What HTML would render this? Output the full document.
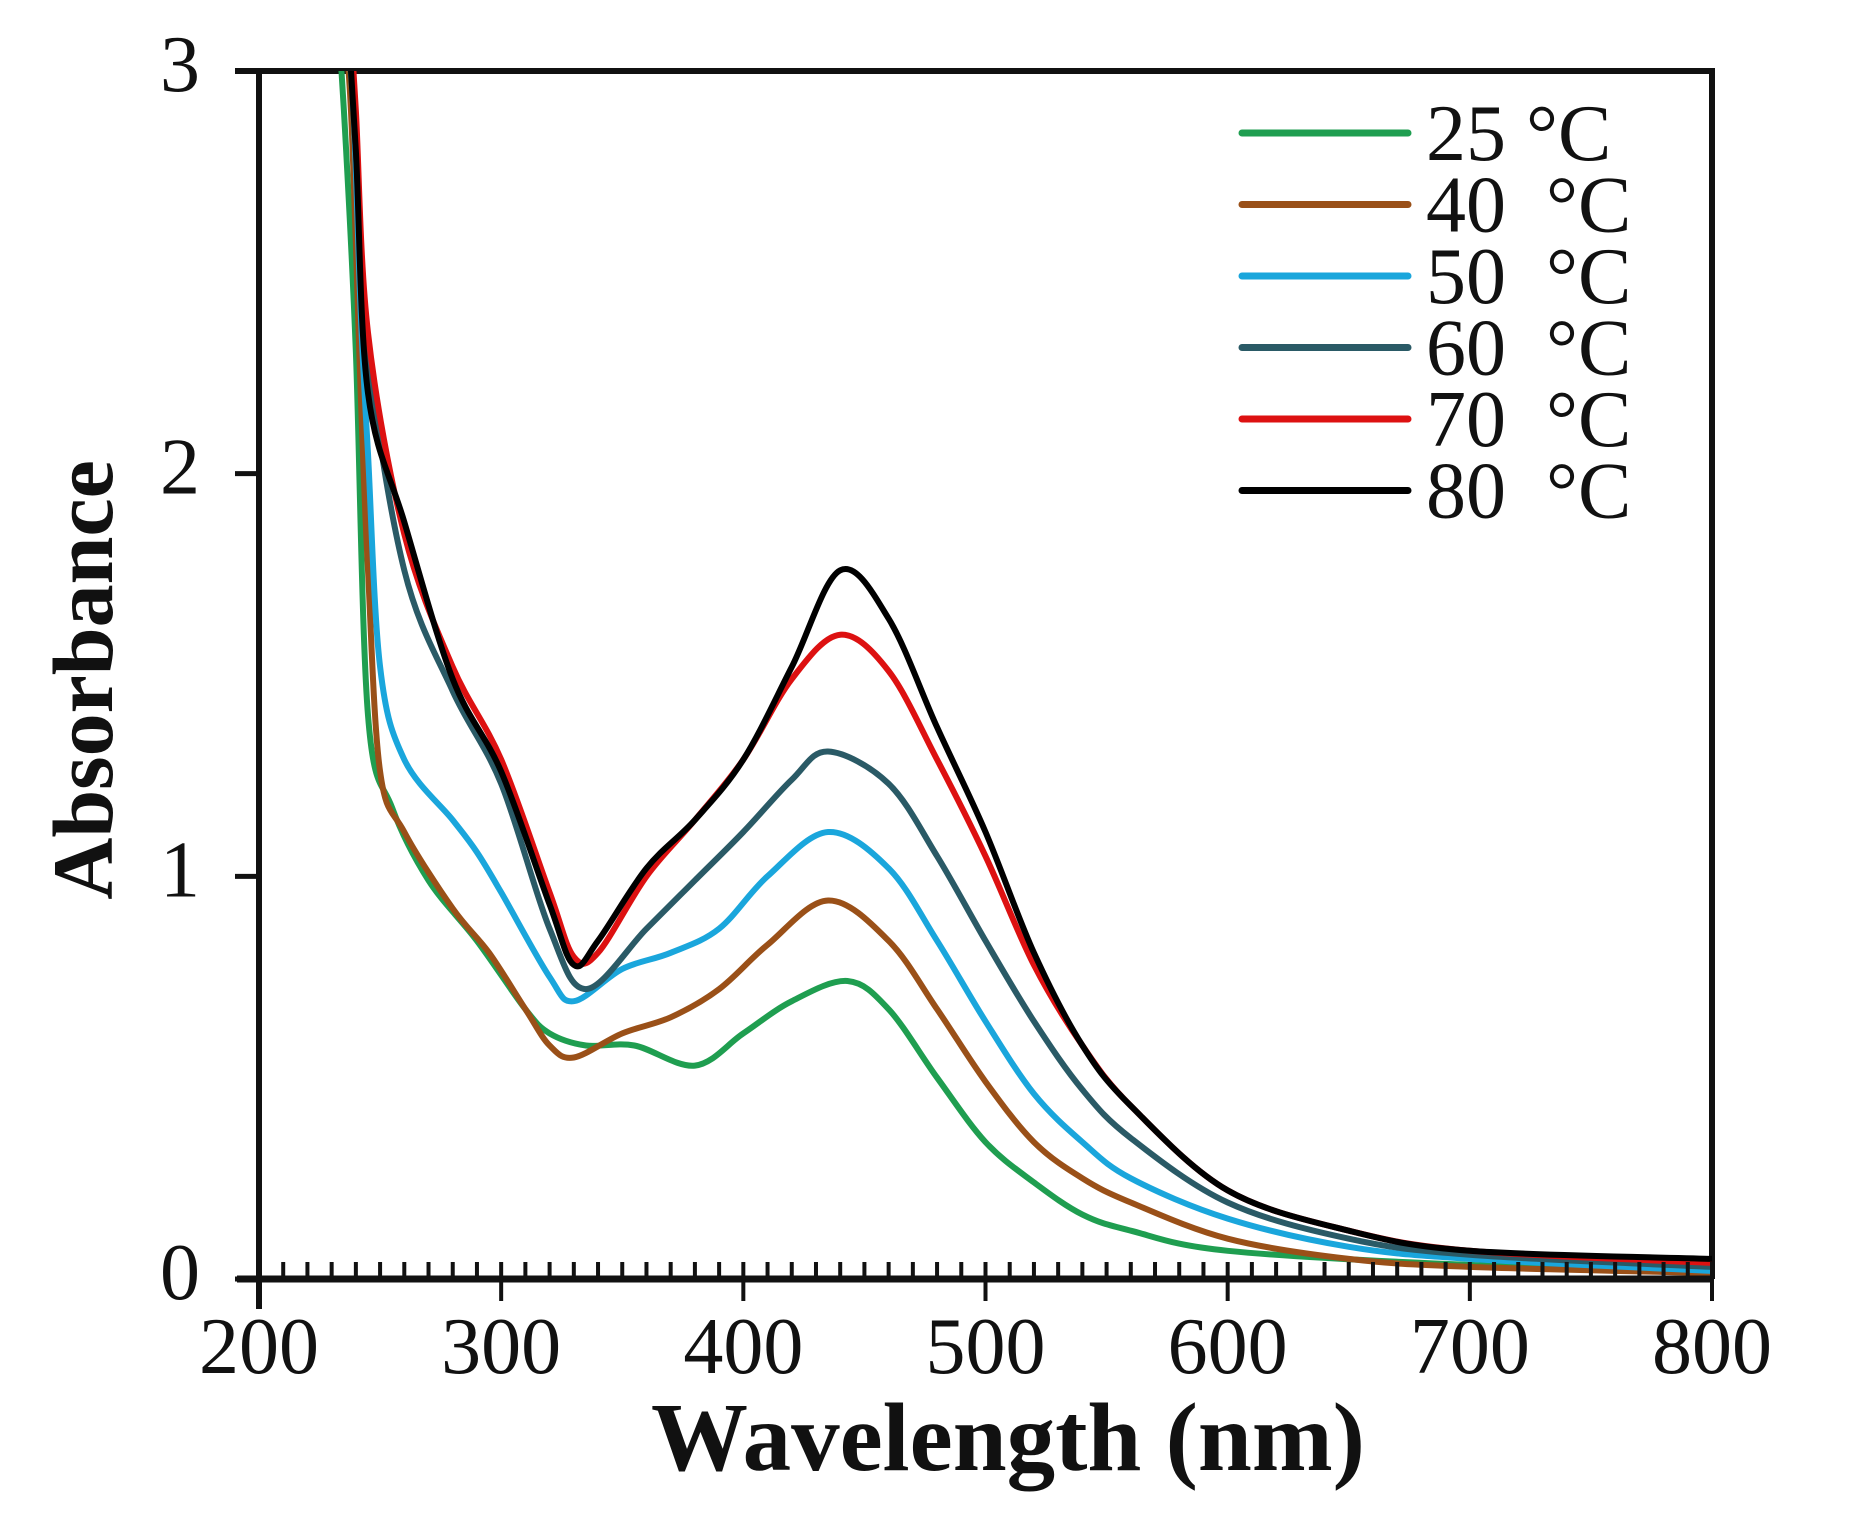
<!DOCTYPE html>
<html><head><meta charset="utf-8"><style>
html,body{margin:0;padding:0;background:#fff}
svg{display:block}
text{font-family:"Liberation Serif",serif;fill:#111}
</style></head><body>
<svg id="chart" width="1853" height="1517" viewBox="0 0 1853 1517" xmlns="http://www.w3.org/2000/svg">
<defs><clipPath id="plotclip"><rect x="259" y="71" width="1453" height="1210"/></clipPath></defs>
<g id="frame"></g>
<g id="series" clip-path="url(#plotclip)"></g>
<g id="axes"></g>
<g id="legend"></g>
<text transform="translate(112,680) rotate(-90)" text-anchor="middle" font-size="86" font-weight="bold">Absorbance</text>
<text x="1008" y="1470" text-anchor="middle" font-size="97" font-weight="bold">Wavelength (nm)</text>
</svg>
<script>
const xTicks=[200,300,400,500,600,700,800];
const yTicks=[0,1,2,3];
const seriesLabels=["25 °C","40  °C","50  °C","60  °C","70  °C","80  °C"];
const seriesColors=["#1f9e50","#9a5018","#1aa6dc","#2a5a66","#dd1111","#000000"];
const wl25=[232,236,240,245,255,270,290,310,320,335,355,380,400,420,443,460,480,500,520,540,560,600,700,800];
const ab25=[3.2,2.8,2.3,1.4,1.17,0.99,0.84,0.67,0.61,0.58,0.58,0.53,0.61,0.69,0.74,0.67,0.5,0.34,0.24,0.16,0.12,0.07,0.035,0.02];
const wl40=[234,238,242,245,250,260,280,295,310,320,330,350,370,390,410,435,460,480,500,520,540,560,600,650,700,800];
const ab40=[3.2,2.9,2.2,1.76,1.26,1.11,0.92,0.81,0.67,0.58,0.55,0.61,0.65,0.72,0.83,0.94,0.84,0.67,0.49,0.34,0.25,0.19,0.1,0.05,0.03,0.015];
const wl50=[235,239,242,245,250,260,280,290,300,320,330,350,370,390,410,435,460,480,500,520,540,560,600,650,700,800];
const ab50=[3.2,2.9,2.4,2.05,1.52,1.29,1.14,1.06,0.96,0.75,0.69,0.77,0.81,0.87,1.0,1.11,1.02,0.84,0.64,0.46,0.34,0.25,0.15,0.08,0.05,0.02];
const wl60=[236,240,245,260,280,300,320,335,360,380,400,420,435,460,480,500,520,540,560,600,650,700,800];
const ab60=[3.2,2.8,2.3,1.76,1.46,1.23,0.87,0.72,0.87,0.99,1.11,1.24,1.31,1.23,1.05,0.84,0.64,0.47,0.35,0.19,0.1,0.06,0.03];
const wl70=[237,240,245,260,280,300,320,330,340,360,380,400,420,440,460,480,500,520,540,560,600,650,700,800];
const ab70=[3.2,2.9,2.35,1.85,1.52,1.29,0.96,0.8,0.81,1.0,1.14,1.29,1.49,1.6,1.51,1.29,1.05,0.78,0.58,0.43,0.22,0.12,0.07,0.04];
const wl80=[236,240,245,260,280,300,320,330,340,360,380,400,420,440,460,480,500,520,540,560,600,650,700,800];
const ab80=[3.2,2.8,2.2,1.88,1.49,1.26,0.93,0.78,0.84,1.02,1.14,1.29,1.52,1.76,1.64,1.37,1.11,0.81,0.58,0.43,0.22,0.12,0.07,0.05];
const allWl=[wl25,wl40,wl50,wl60,wl70,wl80];
const allAb=[ab25,ab40,ab50,ab60,ab70,ab80];

const NS="http://www.w3.org/2000/svg";
const X0=259,X1=1712,Y0=1279,Y3=71;
function xs(v){return X0+(v-200)/600*(X1-X0);}
function ys(v){return Y0-(v/3)*(Y0-Y3);}
function mk(tag,attrs,parent){const e=document.createElementNS(NS,tag);for(const k in attrs)e.setAttribute(k,attrs[k]);parent.appendChild(e);return e;}

const frame=document.getElementById('frame');
let fr=mk('path',{d:`M${X0-24} ${Y3} H${X1} V${Y0} M${X0} ${Y3} V${Y0+30}`,fill:'none',stroke:'#111','stroke-width':6},frame);



const axes=document.getElementById('axes');
let xl=mk('line',{x1:X0-22,y1:Y0,x2:X1,y2:Y0,stroke:'#111','stroke-width':7},axes);


for(let w=210;w<800;w+=10){
  if(w%100===0)continue;
  let t=mk('line',{x1:xs(w),y1:Y0,x2:xs(w),y2:Y0-17,stroke:'#111','stroke-width':4},axes);
  
  
}
xTicks.forEach(v=>{
  let t=mk('line',{x1:xs(v),y1:Y0-17,x2:xs(v),y2:Y0+22,stroke:'#111','stroke-width':4},axes);
  
  
  let l=mk('text',{x:xs(v),y:Y0+94,'text-anchor':'middle','font-size':80},axes);
  l.textContent=v;
  
  
});
yTicks.forEach(v=>{
  let t=mk('line',{x1:X0-24,y1:ys(v),x2:X0,y2:ys(v),stroke:'#111','stroke-width':5},axes);
  
  
  let l=mk('text',{x:200,y:ys(v)+20,'text-anchor':'end','font-size':80},axes);
  l.textContent=v;
  
  
});

const sg=document.getElementById('series');
function smooth(pts){
  let d=`M${pts[0][0]} ${pts[0][1]}`;
  for(let i=0;i<pts.length-1;i++){
    const p0=pts[Math.max(0,i-1)],p1=pts[i],p2=pts[i+1],p3=pts[Math.min(pts.length-1,i+2)];
    const c1x=p1[0]+(p2[0]-p0[0])/6,c1y=p1[1]+(p2[1]-p0[1])/6;
    const c2x=p2[0]-(p3[0]-p1[0])/6,c2y=p2[1]-(p3[1]-p1[1])/6;
    d+=` C${c1x.toFixed(1)} ${c1y.toFixed(1)} ${c2x.toFixed(1)} ${c2y.toFixed(1)} ${p2[0].toFixed(1)} ${p2[1].toFixed(1)}`;
  }
  return d;
}
const names=["series-25c","series-40c","series-50c","series-60c","series-70c","series-80c"];
allWl.forEach((wl,i)=>{
  const pts=wl.map((w,j)=>[xs(w),ys(allAb[i][j])]);
  let p=mk('path',{d:smooth(pts),fill:'none',stroke:seriesColors[i],'stroke-width':6,'stroke-linejoin':'round','stroke-linecap':'round'},sg);
  
  
});

const lg=document.getElementById('legend');
seriesLabels.forEach((s,i)=>{
  const y=133+i*71.5;
  let l=mk('line',{x1:1242,y1:y,x2:1408,y2:y,stroke:seriesColors[i],'stroke-width':7,'stroke-linecap':'round'},lg);
  
  
  let t=mk('text',{x:1426,y:y+27,'font-size':80},lg);
  t.setAttribute('style','white-space:pre');
  t.textContent=s;
  
  
});
</script>
</body></html>
